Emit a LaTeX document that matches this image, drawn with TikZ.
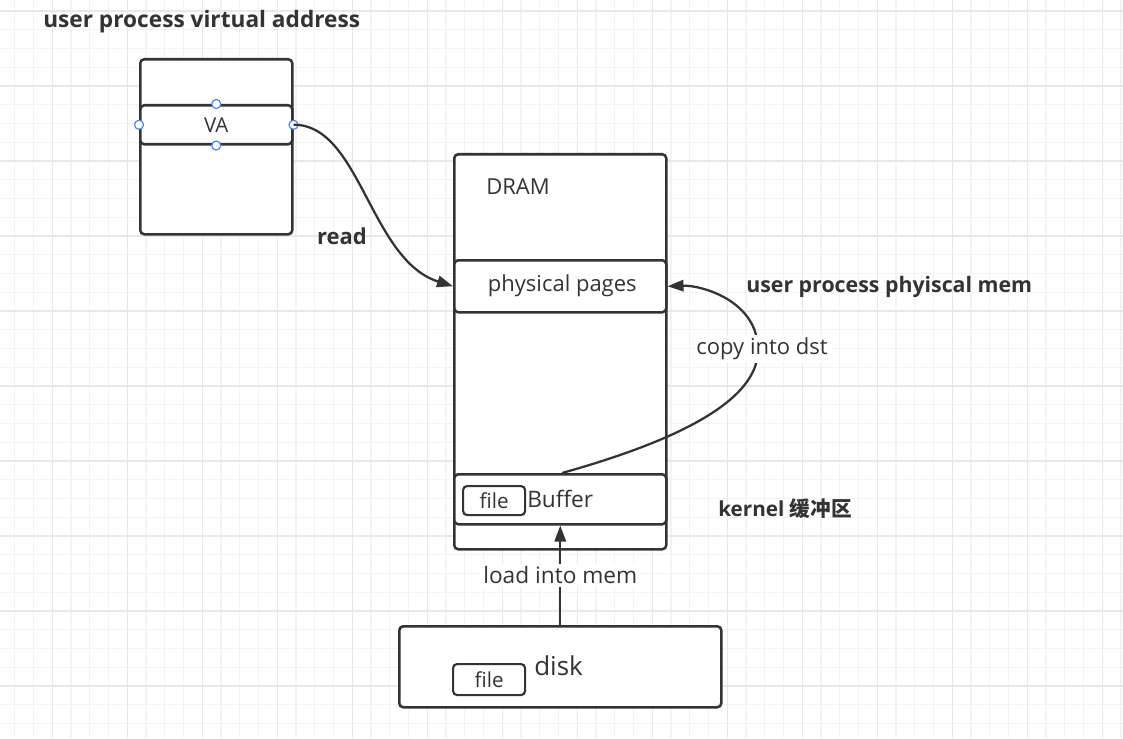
\documentclass[tikz,border=0pt]{standalone}
\usepackage{fontspec}
\setmainfont{Open Sans}
\newfontfamily\cjk{Noto Sans CJK SC}
\usetikzlibrary{arrows.meta}
\definecolor{linec}{HTML}{333333}
\definecolor{gridminor}{HTML}{F3F3F3}
\definecolor{gridmajor}{HTML}{E8E8E8}
\definecolor{handle}{HTML}{4A86F0}
\tikzset{
  pbox/.style={draw=linec, line width=1.9pt, rounded corners=3pt, fill=white, inner sep=0pt, anchor=north west, text=linec},
  sbox/.style={draw=linec, line width=1.6pt, rounded corners=3pt, fill=white, inner sep=0pt, anchor=north west, text=linec, font=\fontsize{15.5}{17}\selectfont},
  txt/.style={text=linec, inner sep=0pt, font=\fontsize{16.5}{19}\selectfont},
  btxt/.style={text=linec, inner sep=0pt, font=\fontsize{16.5}{19}\selectfont\bfseries},
  conn/.style={draw=linec, line width=1.7pt, -{Triangle[length=12pt,width=8.5pt]}},
  lbl/.style={txt, fill=white, inner sep=2pt},
  hdl/.style={circle, draw=handle, line width=0.9pt, fill=white, minimum size=6.8pt, inner sep=0pt}
}
\begin{document}
\begin{tikzpicture}[x=0.75pt, y=-0.75pt]
\useasboundingbox (0,0) rectangle (1123,738);
\fill[white] (0,0) rectangle (1123,738);
% grid
\foreach \i in {0,...,59} \draw[gridminor, line width=0.9pt] (14.8+18.75*\i,0) -- (14.8+18.75*\i,738);
\foreach \i in {0,...,39} \draw[gridminor, line width=0.9pt] (0,11+18.75*\i) -- (1123,11+18.75*\i);
\foreach \i in {0,...,14} \draw[gridmajor, line width=1.1pt] (52.3+75*\i,0) -- (52.3+75*\i,738);
\foreach \i in {0,...,9} \draw[gridmajor, line width=1.1pt] (0,11+75*\i) -- (1123,11+75*\i);

% virtual address box
\node[btxt, anchor=west, font=\fontsize{17}{20}\selectfont\bfseries] (title) at (43,22) {user process virtual address};
\node[pbox, minimum width=152*0.75pt, minimum height=175*0.75pt] (vabox) at (139,58) {};
\node[pbox, minimum width=152*0.75pt, minimum height=39*0.75pt, font=\fontsize{15.4}{17}\selectfont] (varow) at (139,104) {VA};
\node[hdl] (h1) at (varow.north) {};
\node[hdl] (h2) at (varow.south) {};
\node[hdl] (h3) at (varow.west) {};
\node[hdl] (h4) at (varow.east) {};

% DRAM
\node[pbox, minimum width=212*0.75pt, minimum height=395*0.75pt] (dram) at (453,153) {};
\node[txt, anchor=west] (dramlbl) at (486,187) {DRAM};
\node[pbox, minimum width=212*0.75pt, minimum height=52*0.75pt, font=\fontsize{16.5}{19}\selectfont] (pp) at (453,259) {\hspace*{3pt}physical pages};
\node[pbox, minimum width=212*0.75pt, minimum height=50*0.75pt] (bufrow) at (453,473) {};
\node[sbox, minimum width=62*0.75pt, minimum height=29*0.75pt] (file1) at (462,485) {file};
\node[txt, anchor=west, font=\fontsize{17}{20}\selectfont] (buflbl) at (527,499) {Buffer};

% disk
\node[pbox, minimum width=322*0.75pt, minimum height=81*0.75pt] (disk) at (398,625) {};
\node[sbox, minimum width=72*0.75pt, minimum height=31*0.75pt] (file2) at (452,663) {file};
\node[txt, anchor=west, font=\fontsize{19.5}{23}\selectfont] (disklbl) at (534,666) {disk};

% side labels
\node[btxt] (readlbl) at (342,236) {read};
\node[btxt, anchor=west, font=\fontsize{16}{19}\selectfont\bfseries] (upm) at (746,287) {user process phyiscal mem};
\node[btxt, anchor=west, font=\fontsize{15.5}{18}\selectfont\bfseries] (kbuf) at (718,509) {kernel {\cjk\bfseries 缓冲区}};

% connectors
\draw[conn] (varow.east) .. controls (360,124) and (370,260) .. (pp.west);
\coordinate (cpstart) at (562,473);
\draw[conn] (cpstart) .. controls (680,440) and (758,400) .. (758,350)
  .. controls (758,300) and (700,285) .. (pp.east);
\node[lbl] (cplbl) at (762,349) {copy into dst};
\draw[conn] (disk.north) -- (bufrow.south) node[lbl, pos=0.5, font=\fontsize{17}{20}\selectfont] (ldlbl) {load into mem};
\end{tikzpicture}
\end{document}
